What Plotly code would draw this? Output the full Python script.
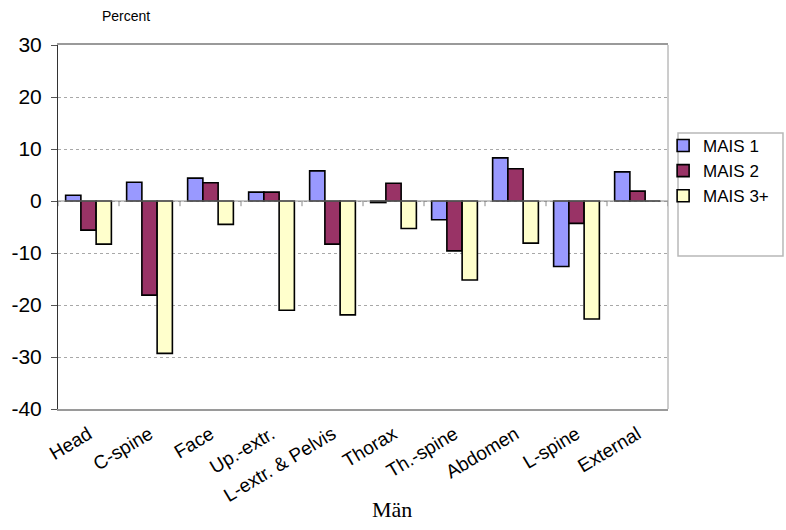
import plotly.graph_objects as go

categories = ["Head", "C-spine", "Face", "Up.-extr.", "L-extr. & Pelvis", "Thorax",
              "Th.-spine", "Abdomen", "L-spine", "External"]
mais1 = [1.1, 3.6, 4.4, 1.7, 5.8, -0.3, -3.6, 8.3, -12.6, 5.6]
mais2 = [-5.6, -18.1, 3.5, 1.7, -8.3, 3.4, -9.6, 6.2, -4.3, 1.9]
mais3 = [-8.3, -29.3, -4.5, -21.0, -21.9, -5.3, -15.2, -8.1, -22.7, 0.0]
series_names = ["MAIS 1", "MAIS 2", "MAIS 3+"]
colors = ["#9999FF", "#993366", "#FFFFCC"]
y_ticks = [30, 20, 10, 0, -10, -20, -30, -40]
y_tick_text = ["30", "20", "10", "0", "-10", "-20", "-30", "-40"]

fig = go.Figure()
for name, vals, col in zip(series_names, [mais1, mais2, mais3], colors):
    fig.add_trace(go.Bar(
        x=list(range(len(categories))), y=vals, name=name,
        marker=dict(color=col, line=dict(color="#000000", width=1.6)),
    ))

shapes = []
# right border
shapes.append(dict(type="line", xref="paper", yref="paper", x0=1, x1=1, y0=0, y1=1,
                   line=dict(color="#9a9a9a", width=1)))
# zero line
shapes.append(dict(type="line", xref="paper", yref="y", x0=0, x1=1, y0=0, y1=0,
                   line=dict(color="#8a8a8a", width=1)))
# category boundary ticks on zero line
for i in range(len(categories) + 1):
    shapes.append(dict(type="line", xref="x", yref="y", x0=i - 0.5, x1=i - 0.5,
                       y0=0, y1=-1.0, line=dict(color="#8a8a8a", width=1)))
# legend box
shapes.append(dict(type="rect", xref="paper", yref="paper", x0=1.0164, x1=1.1885,
                   y0=0.4203, y1=0.7582, line=dict(color="#b8b8b8", width=1.5),
                   fillcolor="rgba(0,0,0,0)"))

fig.update_layout(
    width=786, height=530,
    margin=dict(l=58, r=118, t=45, b=121, autoexpand=False),
    paper_bgcolor="white", plot_bgcolor="white",
    barmode="group", bargap=0.25, bargroupgap=0,
    font=dict(family="Liberation Sans, Arial, sans-serif", color="#000000"),
    showlegend=True,
    legend=dict(x=0.992, y=0.772, xanchor="left", yanchor="top",
                font=dict(size=17, color="#000000"), bgcolor="rgba(0,0,0,0)",
                borderwidth=0, itemwidth=30, tracegroupgap=0),
    shapes=shapes,
    annotations=[
        dict(text="Percent", xref="paper", yref="paper", x=(100 - 58) / 610, y=1.0,
             yshift=19, xanchor="left", yanchor="bottom", showarrow=False,
             font=dict(size=14, color="#000000")),
        dict(text="Män", xref="paper", yref="paper", x=(392 - 58) / 610, y=0,
             yshift=-86, xanchor="center", yanchor="top", showarrow=False,
             font=dict(family="Liberation Serif, Times New Roman, serif", size=22,
                       color="#000000")),
    ],
)
fig.update_xaxes(
    tickmode="array", tickvals=list(range(len(categories))), ticktext=categories,
    tickangle=-31, tickfont=dict(size=19, color="#000000"),
    range=[-0.5, len(categories) - 0.5], automargin=False,
    showline=True, linecolor="#9a9a9a", linewidth=1.5, mirror=True,
    ticks="", showgrid=False, zeroline=False, ticklabelstandoff=5,
)
fig.update_yaxes(
    range=[-40, 30], tickmode="array", tickvals=y_ticks, ticktext=y_tick_text,
    tickfont=dict(size=21, color="#000000"), automargin=False,
    ticks="outside", ticklen=6, tickcolor="#555555", ticklabelstandoff=5,
    showline=True, linecolor="#333333", linewidth=1,
    showgrid=True, gridcolor="#a8a8a8", griddash="dot", gridwidth=1,
    zeroline=False,
)

fig.write_html("out.html", config={"displayModeBar": False},
               post_script="document.body.style.margin='0px';document.body.style.padding='0px';")
